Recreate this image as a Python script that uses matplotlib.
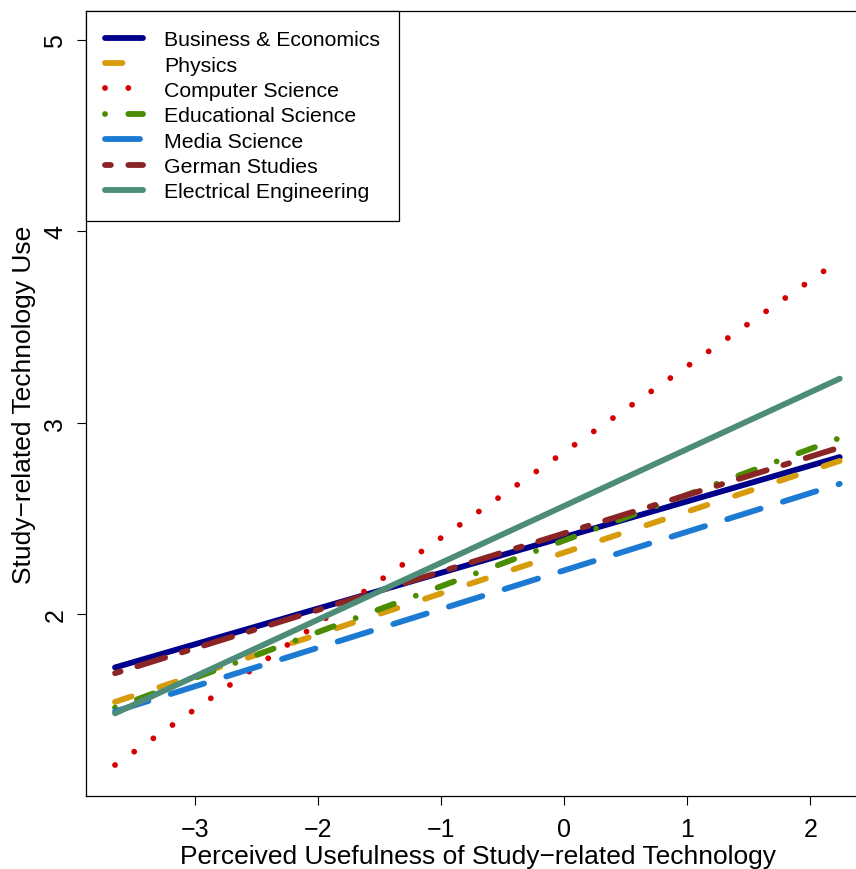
import matplotlib
matplotlib.use("Agg")
import matplotlib.pyplot as plt
from matplotlib.patches import Rectangle

plt.rcParams['font.family'] = ['Liberation Sans', 'DejaVu Sans']

# fitted lines: value at lowest and highest observed usefulness
x_ends = [-3.65, 2.24]
fields = ["Business & Economics", "Physics", "Computer Science",
          "Educational Science", "Media Science", "German Studies",
          "Electrical Engineering"]
y_start = [1.72, 1.54, 1.21, 1.51, 1.49, 1.69, 1.48]
y_end = [2.82, 2.80, 3.85, 2.92, 2.68, 2.87, 3.23]

colors = ["#00008B", "#D69C0C", "#D40000", "#4A8C00", "#1C7AD2",
          "#8B2525", "#4C8C78"]
# R lty 1..6 (then solid again); "on" parts shortened by one width for round caps
dashes = [None, (3, 5), (0.001, 4), (0.001, 4, 3, 4), (6, 4), (1, 3, 5, 3), None]

fig = plt.figure(figsize=(8.56, 8.70), dpi=100)
ax = fig.add_axes([86 / 856, 73 / 870, 784 / 856, 785 / 870])

for name, y0, y1, c, d in zip(fields, y_start, y_end, colors, dashes):
    line, = ax.plot(x_ends, [y0, y1], color=c, lw=4.2, label=name,
                    solid_capstyle='round', dash_capstyle='round')
    if d is not None:
        line.set_dashes(d)

ax.set_xlim(-3.886, 2.486)
ax.set_ylim(1.048, 5.152)
ax.set_xticks([-3, -2, -1, 0, 1, 2])
ax.set_xticklabels(["\u22123", "\u22122", "\u22121", "0", "1", "2"])
ax.set_yticks([2, 3, 4, 5])
ax.set_yticklabels(["2", "3", "4", "5"], rotation=90, va='center')
ax.tick_params(direction='out', length=6.5, width=0.8, labelsize=18, pad=7)
ax.tick_params(axis='x', pad=8.5)
ax.spines['right'].set_visible(False)
for s in ax.spines.values():
    s.set_linewidth(0.9)

ax.set_xlabel("Perceived Usefulness of Study\u2212related Technology",
              fontsize=19, labelpad=2.5)
ax.set_ylabel("Study\u2212related Technology Use", fontsize=19, labelpad=5)

leg = ax.legend(loc='upper left', bbox_to_anchor=(0, 1), borderaxespad=0,
                fancybox=False, edgecolor='black', framealpha=1,
                fontsize=15.3, handlelength=1.76, handletextpad=1.0,
                labelspacing=0.3, borderpad=0.9)
leg.get_frame().set_linewidth(0.9)

# the plot box runs past the right edge of the picture: no right border
fig.add_artist(Rectangle((852 / 856, 76 / 870), 4 / 856, 779 / 870,
                         transform=fig.transFigure, color='white', zorder=10))

fig.savefig("out.png", dpi=100)
